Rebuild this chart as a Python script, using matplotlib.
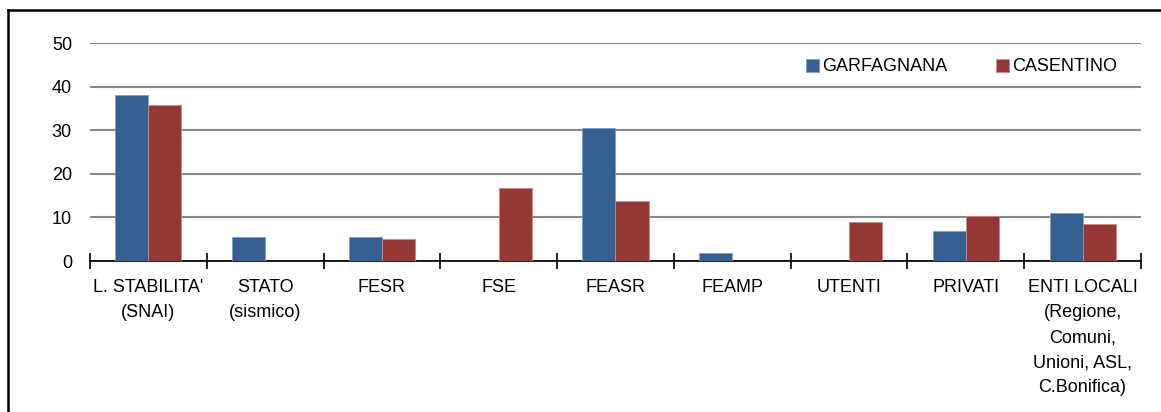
import numpy as np
import matplotlib
matplotlib.use("Agg")
import matplotlib.pyplot as plt
from matplotlib.lines import Line2D

plt.rcParams['font.family'] = ['Liberation Sans', 'DejaVu Sans']

categories = ["L. STABILITA'\n(SNAI)", "STATO\n(sismico)", "FESR", "FSE", "FEASR",
              "FEAMP", "UTENTI", "PRIVATI",
              "ENTI LOCALI\n(Regione,\nComuni,\nUnioni, ASL,\nC.Bonifica)"]
garfagnana = [38.1, 5.5, 5.4, 0, 30.6, 1.9, 0, 6.9, 11.0]
casentino = [35.8, 0, 5.1, 16.7, 13.7, 0, 8.9, 10.4, 8.6]
yticks = [0, 10, 20, 30, 40, 50]

W, H = 1161, 412
fig = plt.figure(figsize=(W / 100, H / 100), dpi=100)
ax = fig.add_axes([90 / W, (H - 261) / H, (1141 - 90) / W, (261 - 43) / H])

x = np.arange(len(categories))
bw = 0.283
ax.bar(x - bw / 2, garfagnana, bw, color='#376092', edgecolor='#7f9cc0', linewidth=0.6,
       label='GARFAGNANA', zorder=3)
ax.bar(x + bw / 2, casentino, bw, color='#953735', edgecolor='#c98a88', linewidth=0.6,
       label='CASENTINO', zorder=3)

ax.set_xlim(-0.5, len(categories) - 0.5)
ax.set_ylim(0, 50)
ax.set_yticks(yticks)
ax.tick_params(axis='y', length=0, labelsize=13, pad=13)
ax.yaxis.grid(True, color='#888888', linewidth=1.5, zorder=0)
ax.set_axisbelow(True)

for s in ['top', 'right', 'left']:
    ax.spines[s].set_visible(False)
ax.spines['bottom'].set_color('black')
ax.spines['bottom'].set_linewidth(1.2)

# category boundary ticks crossing the axis
ax.set_xticks(np.arange(-0.5, len(categories)), minor=False)
ax.set_xticklabels([])
ax.tick_params(axis='x', direction='inout', length=12, width=1.2, color='black')
ax.set_xticks(x, minor=True)
ax.set_xticklabels(categories, minor=True, fontsize=13, linespacing=1.62, va='top')
ax.tick_params(axis='x', which='minor', length=0, pad=13)

ax.legend(loc='center', bbox_to_anchor=(0.829, 0.89), ncol=2, frameon=False,
          fontsize=13, handlelength=0.75, handleheight=0.75, handletextpad=0.15,
          columnspacing=2.7)

# outer frame
fig.add_artist(Line2D([8 / W, 8 / W], [0, 1 - 10 / H], color='black', linewidth=1.8))
fig.add_artist(Line2D([8 / W, 1], [1 - 10 / H, 1 - 10 / H], color='black', linewidth=1.8))

fig.savefig('out.png', dpi=100)
